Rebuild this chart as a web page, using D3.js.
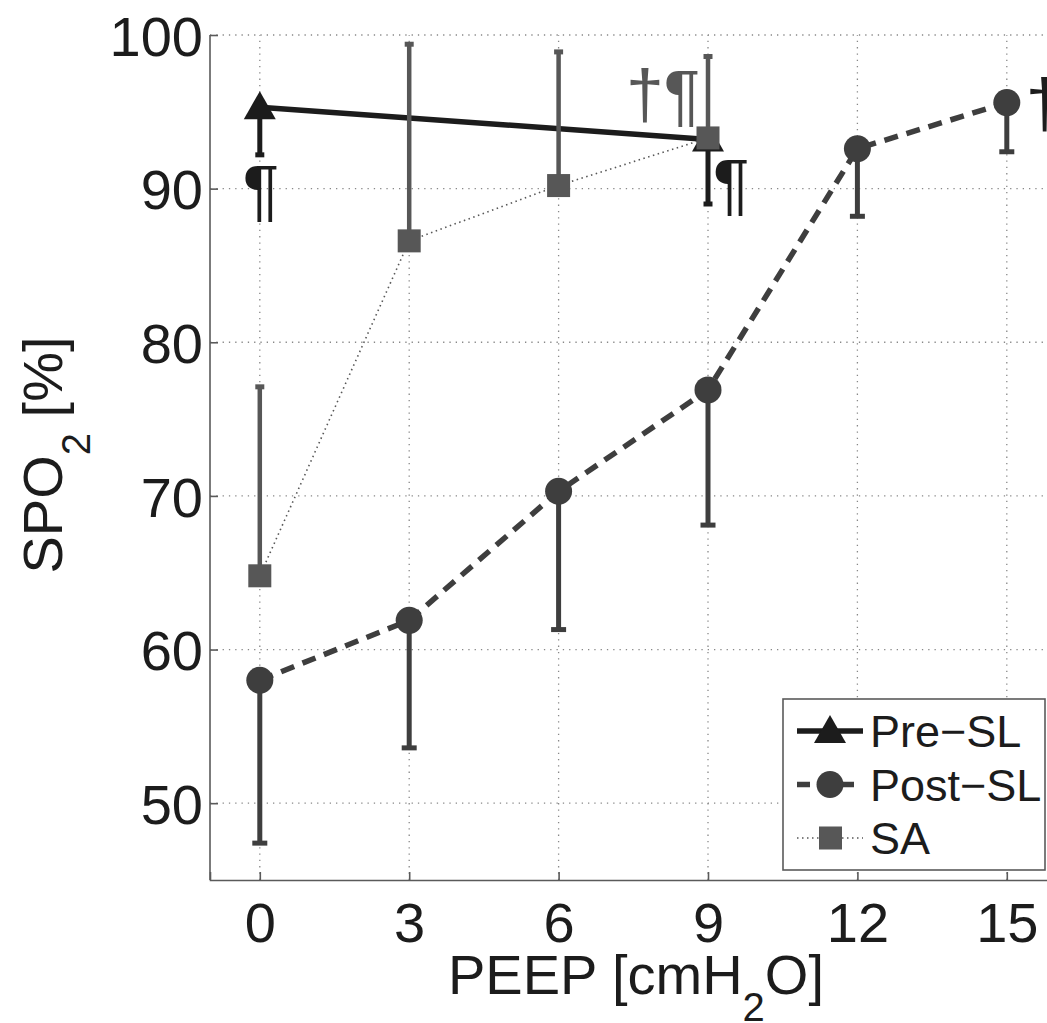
<!DOCTYPE html>
<html>
<head>
<meta charset="utf-8">
<script src="https://cdn.jsdelivr.net/npm/d3@7"></script>
<style>
  body { margin: 0; background: #fff; }
  svg { display: block; font-family: "Liberation Sans", Arial, Helvetica, sans-serif; }
</style>
</head>
<body>
<div id="chart"></div>
<script>
  // data (PEEP in cmH2O, SpO2 in %)
  var peepTicks = [0, 3, 6, 9, 12, 15];
  var spoTicks = [50, 60, 70, 80, 90, 100];

  var preX = [0, 9];
  var preMean = [95.3, 93.2];
  var preLow = [92.2, 89.0];

  var postX = [0, 3, 6, 9, 12, 15];
  var postMean = [58.0, 61.9, 70.3, 76.9, 92.6, 95.6];
  var postLow = [47.4, 53.6, 61.3, 68.1, 88.2, 92.4];

  var saX = [0, 3, 6, 9];
  var saMean = [64.8, 86.6, 90.2, 93.3];
  var saHigh = [77.1, 99.4, 98.9, 98.6];

  var svgWidth = 1047;
  var svgHeight = 1023;

  var svg = d3.select("#chart")
    .append("svg")
    .attr("width", svgWidth)
    .attr("height", svgHeight);

  var x = d3.scaleLinear().domain([-1, 16]).range([210, 1056.6]);
  var y = d3.scaleLinear().domain([45, 100]).range([880, 35]);

  var black = "#1c1c1c";
  var dark = "#3e3e3e";
  var gray = "#575757";
  var axisColor = "#5a5a5a";

  // grid
  var grid = svg.append("g");
  grid.selectAll("line.gx")
    .data(peepTicks)
    .enter().append("line")
    .attr("x1", d => x(d)).attr("x2", d => x(d))
    .attr("y1", y(45)).attr("y2", y(100))
    .attr("stroke", "#888").attr("stroke-width", 1.3)
    .attr("stroke-dasharray", "1.3,5");
  grid.selectAll("line.gy")
    .data(spoTicks)
    .enter().append("line")
    .attr("x1", x(-1)).attr("x2", svgWidth)
    .attr("y1", d => y(d)).attr("y2", d => y(d))
    .attr("stroke", "#888").attr("stroke-width", 1.3)
    .attr("stroke-dasharray", "1.3,5");

  // axes
  var yAxis = d3.axisLeft(y).tickValues(spoTicks).tickSize(-8).tickPadding(7);
  var xAxis = d3.axisBottom(x).tickValues(peepTicks).tickSize(-8).tickPadding(22);

  var gy = svg.append("g").attr("transform", `translate(${x(-1)},0)`).call(yAxis);
  var gx = svg.append("g").attr("transform", `translate(0,${y(45)})`).call(xAxis);

  [gx, gy].forEach(function(g) {
    g.select(".domain").attr("stroke", axisColor).attr("stroke-width", 1.6);
    g.selectAll(".tick line").attr("stroke", axisColor).attr("stroke-width", 1.6);
    g.selectAll(".tick text")
      .attr("fill", black)
      .attr("font-size", "56px")
      .attr("font-family", "'Liberation Sans', Arial, sans-serif");
  });
  gy.select(".domain").attr("d", `M0,${y(45)}V${y(100)}`);
  gy.selectAll(".tick text").attr("dy", "0.36em");

  // axis titles
  var xt = svg.append("text")
    .attr("x", 636).attr("y", 994)
    .attr("text-anchor", "middle")
    .attr("font-size", "56px").attr("fill", black);
  xt.append("tspan").text("PEEP [cmH");
  xt.append("tspan").attr("font-size", "40px").attr("dy", 27).text("2");
  xt.append("tspan").attr("dy", -27).text("O]");

  var yt = svg.append("text")
    .attr("transform", "translate(62,455) rotate(-90)")
    .attr("text-anchor", "middle")
    .attr("font-size", "56px").attr("fill", black);
  yt.append("tspan").text("SPO");
  yt.append("tspan").attr("font-size", "40px").attr("dy", 28).text("2");
  yt.append("tspan").attr("dy", -28).text(" [%]");

  var plot = svg.append("g");

  // Post-SL
  var post = postX.map((d, i) => ({ x: d, m: postMean[i], lo: postLow[i] }));
  plot.append("path")
    .datum(post)
    .attr("fill", "none")
    .attr("stroke", dark).attr("stroke-width", 5.5)
    .attr("stroke-dasharray", "14,9")
    .attr("d", d3.line().x(d => x(d.x)).y(d => y(d.m)));
  var postErr = plot.selectAll("g.perr").data(post).enter().append("g");
  postErr.append("line")
    .attr("x1", d => x(d.x)).attr("x2", d => x(d.x))
    .attr("y1", d => y(d.m)).attr("y2", d => y(d.lo))
    .attr("stroke", dark).attr("stroke-width", 5);
  postErr.append("line")
    .attr("x1", d => x(d.x) - 7.5).attr("x2", d => x(d.x) + 7.5)
    .attr("y1", d => y(d.lo)).attr("y2", d => y(d.lo))
    .attr("stroke", dark).attr("stroke-width", 5);
  plot.selectAll("circle.post").data(post).enter().append("circle")
    .attr("cx", d => x(d.x)).attr("cy", d => y(d.m))
    .attr("r", 13.5).attr("fill", dark);

  // Pre-SL
  var pre = preX.map((d, i) => ({ x: d, m: preMean[i], lo: preLow[i] }));
  plot.append("path")
    .datum(pre)
    .attr("fill", "none")
    .attr("stroke", black).attr("stroke-width", 5.5)
    .attr("d", d3.line().x(d => x(d.x)).y(d => y(d.m)));
  var preErr = plot.selectAll("g.prerr").data(pre).enter().append("g");
  preErr.append("line")
    .attr("x1", d => x(d.x)).attr("x2", d => x(d.x))
    .attr("y1", d => y(d.m)).attr("y2", d => y(d.lo))
    .attr("stroke", black).attr("stroke-width", 5);
  preErr.append("line")
    .attr("x1", d => x(d.x) - 4.5).attr("x2", d => x(d.x) + 4.5)
    .attr("y1", d => y(d.lo)).attr("y2", d => y(d.lo))
    .attr("stroke", black).attr("stroke-width", 5);
  var tri = "M0,-16L16,12L-16,12Z";
  plot.selectAll("path.pre").data(pre).enter().append("path")
    .attr("transform", d => `translate(${x(d.x)},${y(d.m)})`)
    .attr("d", tri).attr("fill", black);

  // SA
  var sa = saX.map((d, i) => ({ x: d, m: saMean[i], hi: saHigh[i] }));
  plot.append("path")
    .datum(sa)
    .attr("fill", "none")
    .attr("stroke", gray).attr("stroke-width", 1.6)
    .attr("stroke-dasharray", "1.5,3.5")
    .attr("d", d3.line().x(d => x(d.x)).y(d => y(d.m)));
  var saErr = plot.selectAll("g.saerr").data(sa).enter().append("g");
  saErr.append("line")
    .attr("x1", d => x(d.x)).attr("x2", d => x(d.x))
    .attr("y1", d => y(d.m)).attr("y2", d => y(d.hi))
    .attr("stroke", gray).attr("stroke-width", 4.5);
  saErr.append("line")
    .attr("x1", d => x(d.x) - 4.5).attr("x2", d => x(d.x) + 4.5)
    .attr("y1", d => y(d.hi)).attr("y2", d => y(d.hi))
    .attr("stroke", gray).attr("stroke-width", 5);
  plot.selectAll("rect.sa").data(sa).enter().append("rect")
    .attr("x", d => x(d.x) - 11.5).attr("y", d => y(d.m) - 11.5)
    .attr("width", 23).attr("height", 23)
    .attr("fill", gray);

  // significance marks
  var marks = [
    { x: 0, v: preLow[0], text: "\u00B6", color: black, dx: -17, dy: 58 },
    { x: 9, v: preLow[1], text: "\u00B6", color: black, dx: 5, dy: 3 },
    { x: 9, v: saMean[3], text: "\u2020\u00B6", color: gray, dx: -82, dy: -20 },
    { x: 15, v: postMean[5], text: "\u2020", color: black, dx: 19, dy: 24 }
  ];
  plot.selectAll("text.mark").data(marks).enter().append("text")
    .attr("x", d => x(d.x) + d.dx)
    .attr("y", d => y(d.v) + d.dy)
    .attr("font-size", "68px")
    .attr("fill", d => d.color)
    .text(d => d.text);

  // legend
  var legend = svg.append("g").attr("transform", "translate(783,699)");
  legend.append("rect")
    .attr("width", 262).attr("height", 171)
    .attr("fill", "#fff").attr("stroke", axisColor).attr("stroke-width", 1.6);
  var items = [
    { name: "Pre\u2212SL", color: black, dash: null, w: 5.5, shape: "tri" },
    { name: "Post\u2212SL", color: dark, dash: "13,9", w: 5.5, shape: "circle" },
    { name: "SA", color: gray, dash: "1.5,3.5", w: 1.6, shape: "square" }
  ];
  var li = legend.selectAll("g.item").data(items).enter().append("g")
    .attr("transform", (d, i) => `translate(0,${32 + i * 53.5})`);
  li.append("line")
    .attr("x1", 14).attr("x2", 80)
    .attr("stroke", d => d.color).attr("stroke-width", d => d.w)
    .attr("stroke-dasharray", d => d.dash);
  li.each(function(d) {
    var g = d3.select(this);
    if (d.shape === "tri") {
      g.append("path").attr("transform", "translate(47,0)").attr("d", tri).attr("fill", d.color);
    } else if (d.shape === "circle") {
      g.append("circle").attr("cx", 47).attr("r", 13.5).attr("fill", d.color);
    } else {
      g.append("rect").attr("x", 36).attr("y", -11.5).attr("width", 23).attr("height", 23).attr("fill", d.color);
    }
  });
  li.append("text")
    .attr("x", 87).attr("y", 16)
    .attr("font-size", "45px").attr("fill", black)
    .text(d => d.name);
</script>
</body>
</html>
